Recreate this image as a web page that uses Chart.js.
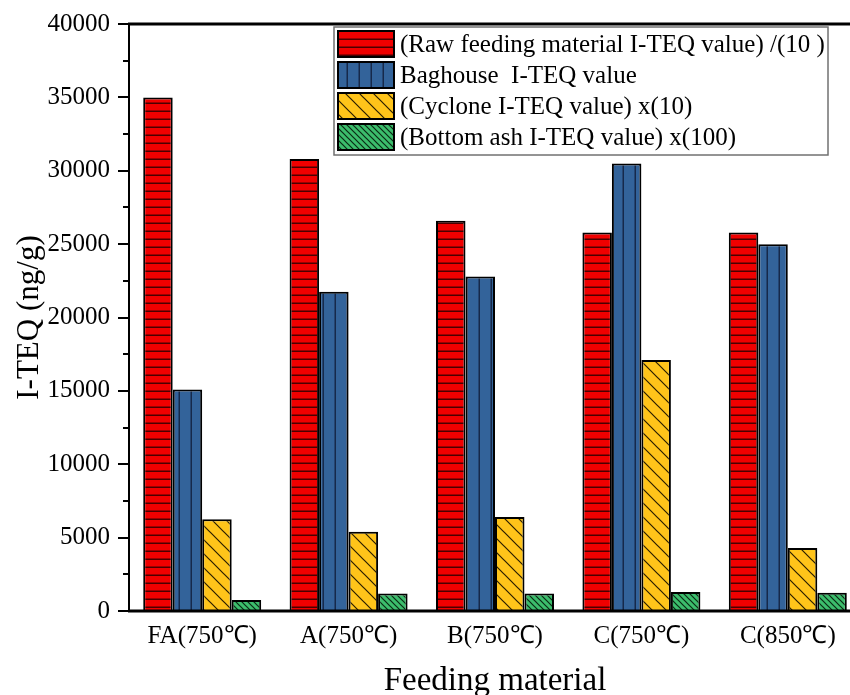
<!DOCTYPE html>
<html>
<head>
<meta charset="utf-8">
<script src="https://cdn.jsdelivr.net/npm/chart.js@4.4.1/dist/chart.umd.min.js"></script>
<style>
  html, body { margin: 0; padding: 0; background: #fff; overflow: hidden; }
  #wrap { width: 870px; height: 695px; }
</style>
</head>
<body>
<div id="wrap"><canvas id="c" width="870" height="695"></canvas></div>
<script>
const categories = ['FA(750\u2103)', 'A(750\u2103)', 'B(750\u2103)', 'C(750\u2103)', 'C(850\u2103)'];
const seriesLabels = [
  '(Raw feeding material I-TEQ value) /(10 )',
  'Baghouse  I-TEQ value',
  '(Cyclone I-TEQ value) x(10)',
  '(Bottom ash I-TEQ value) x(100)'
];
const rawFeed   = [35000, 30800, 26600, 25800, 25800];
const baghouse  = [15100, 21750, 22800, 30500, 25000];
const cyclone   = [6250, 5400, 6400, 17100, 4300];
const bottomAsh = [750, 1200, 1200, 1300, 1250];
const yTicksMajor = [0, 5000, 10000, 15000, 20000, 25000, 30000, 35000, 40000];

const FONT = "'Liberation Serif', 'Times New Roman', serif";

function makePattern(kind) {
  const c = document.createElement('canvas');
  const x = c.getContext('2d');
  if (kind === 'h') {
    c.width = 8; c.height = 8;
    x.fillStyle = '#f00000'; x.fillRect(0, 0, 8, 8);
    x.fillStyle = '#4a0000'; x.fillRect(0, 6.5, 8, 1.5);
  } else if (kind === 'v') {
    c.width = 12; c.height = 12;
    x.fillStyle = '#33639a'; x.fillRect(0, 0, 12, 12);
    x.fillStyle = '#16294a'; x.fillRect(10.5, 0, 1.5, 12);
  } else if (kind === 'd1') {
    const s = 14; c.width = s; c.height = s;
    x.fillStyle = '#ffc41a'; x.fillRect(0, 0, s, s);
    x.strokeStyle = '#2a1e00'; x.lineWidth = 1.2;
    x.beginPath();
    x.moveTo(-1, -1); x.lineTo(s + 1, s + 1);
    x.moveTo(-1, s - 1); x.lineTo(1, s + 1);
    x.moveTo(s - 1, -1); x.lineTo(s + 1, 1);
    x.stroke();
  } else {
    const s = 6; c.width = s; c.height = s;
    x.fillStyle = '#3cbd6c'; x.fillRect(0, 0, s, s);
    x.strokeStyle = '#0a2a14'; x.lineWidth = 1.2;
    x.beginPath();
    x.moveTo(-1, -1); x.lineTo(s + 1, s + 1);
    x.moveTo(-1, s - 1); x.lineTo(1, s + 1);
    x.moveTo(s - 1, -1); x.lineTo(s + 1, 1);
    x.stroke();
  }
  const ctx = document.getElementById('c').getContext('2d');
  return ctx.createPattern(c, 'repeat');
}

const patterns = [makePattern('h'), makePattern('v'), makePattern('d1'), makePattern('d2')];
const seriesData = [rawFeed, baghouse, cyclone, bottomAsh];

const frameAndLegend = {
  id: 'frameAndLegend',
  afterDraw(chart) {
    const ctx = chart.ctx;
    const a = chart.chartArea;
    const y = chart.scales.y;
    ctx.save();
    ctx.strokeStyle = '#000'; ctx.lineWidth = 2;
    for (let v = 2500; v < 40000; v += 5000) {
      const py = Math.round(y.getPixelForValue(v));
      ctx.beginPath(); ctx.moveTo(a.left - 6, py); ctx.lineTo(a.left, py); ctx.stroke();
    }
    yTicksMajor.forEach(v => {
      const py = Math.round(y.getPixelForValue(v));
      ctx.beginPath(); ctx.moveTo(a.left - 11, py); ctx.lineTo(a.left, py); ctx.stroke();
    });
    ctx.lineWidth = 2;
    ctx.beginPath(); ctx.moveTo(a.left, a.top - 1); ctx.lineTo(a.left, a.bottom + 1); ctx.stroke();
    ctx.lineWidth = 3;
    ctx.beginPath(); ctx.moveTo(a.left - 1, a.bottom); ctx.lineTo(chart.width, a.bottom); ctx.stroke();
    ctx.beginPath(); ctx.moveTo(a.left - 1, a.top); ctx.lineTo(chart.width, a.top); ctx.stroke();

    // legend
    const lx = 334, ly = 27, lw = 494, lh = 128;
    ctx.fillStyle = '#fff';
    ctx.fillRect(lx, ly, lw, lh);
    ctx.strokeStyle = '#707070'; ctx.lineWidth = 1.5;
    ctx.strokeRect(lx, ly, lw, lh);
    ctx.font = '25px ' + FONT;
    ctx.textBaseline = 'middle';
    ctx.textAlign = 'left';
    chart.data.datasets.forEach((ds, i) => {
      const ry = ly + 4 + i * 31;
      ctx.fillStyle = ds.backgroundColor;
      ctx.fillRect(338, ry, 56, 26);
      ctx.strokeStyle = '#000'; ctx.lineWidth = 2;
      ctx.strokeRect(338, ry, 56, 26);
      ctx.fillStyle = '#000';
      ctx.fillText(ds.label, 400, ry + 14);
    });
    ctx.restore();
  }
};

new Chart(document.getElementById('c'), {
  type: 'bar',
  data: {
    labels: categories,
    datasets: seriesData.map((d, i) => ({
      label: seriesLabels[i],
      data: d,
      backgroundColor: patterns[i],
      borderColor: '#000',
      borderWidth: 2,
      borderSkipped: 'bottom',
      categoryPercentage: 0.806,
      barPercentage: 1.0
    }))
  },
  options: {
    responsive: false,
    animation: false,
    devicePixelRatio: 1,
    layout: { padding: { top: 24, right: 9, left: 0, bottom: 0 } },
    plugins: { legend: { display: false }, tooltip: { enabled: false } },
    scales: {
      x: {
        grid: { display: false, drawTicks: false },
        border: { display: false },
        ticks: { color: '#000', font: { family: FONT, size: 25 }, padding: 10, maxRotation: 0 },
        title: { display: true, text: 'Feeding material', color: '#000', font: { family: FONT, size: 33, lineHeight: 0.8 }, padding: { top: 0, bottom: 0 } },
        afterFit(s) { s.height = 84; s.paddingLeft = 0; s.paddingRight = 0; }
      },
      y: {
        min: 0, max: 40000,
        afterBuildTicks(s) { s.ticks = yTicksMajor.map(v => ({ value: v })); },
        grid: { display: false, drawTicks: false },
        border: { display: false },
        ticks: { color: '#000', font: { family: FONT, size: 25 }, padding: 19, callback: v => String(v) },
        title: { display: true, text: 'I-TEQ (ng/g)', color: '#000', font: { family: FONT, size: 31 }, padding: { top: 11, bottom: 0 } },
        afterFit(s) { s.width = 129; s.paddingTop = 0; s.paddingBottom = 0; }
      }
    }
  },
  plugins: [frameAndLegend]
});
</script>
</body>
</html>
